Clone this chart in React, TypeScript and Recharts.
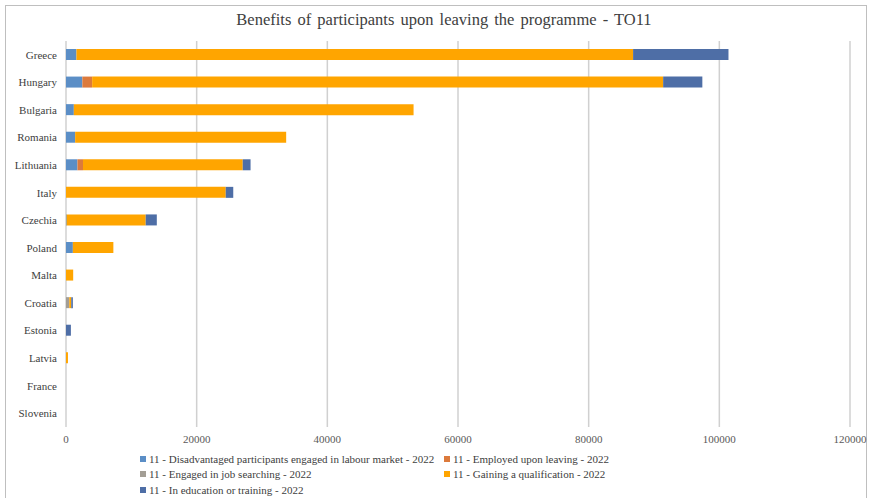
import { BarChart, Bar, XAxis, YAxis, CartesianGrid } from "recharts";

const countries = [
  "Greece", "Hungary", "Bulgaria", "Romania", "Lithuania", "Italy", "Czechia",
  "Poland", "Malta", "Croatia", "Estonia", "Latvia", "France", "Slovenia",
];
const disadvantaged = [1600, 2500, 1200, 1400, 1750, 0, 100, 1050, 0, 0, 0, 0, 0, 0];
const employed = [0, 1500, 0, 0, 850, 0, 0, 0, 0, 0, 0, 0, 0, 0];
const jobSearching = [0, 0, 0, 0, 0, 0, 0, 0, 0, 500, 0, 0, 0, 0];
const qualification = [85200, 87400, 52000, 32300, 24450, 24450, 12100, 6200, 1100, 300, 0, 300, 0, 0];
const education = [14600, 6000, 0, 0, 1200, 1150, 1700, 0, 0, 250, 750, 0, 0, 0];
const xTicks = [0, 20000, 40000, 60000, 80000, 100000, 120000];

const series = [
  { key: "disadvantaged", name: "11 - Disadvantaged participants engaged in labour market - 2022", color: "#5b8ec6" },
  { key: "employed", name: "11 - Employed upon leaving - 2022", color: "#dc7a3c" },
  { key: "jobSearching", name: "11 - Engaged in job searching - 2022", color: "#a39e95" },
  { key: "qualification", name: "11 - Gaining a qualification - 2022", color: "#ffa500" },
  { key: "education", name: "11 - In education or training - 2022", color: "#4e6ea6" },
];

const data = countries.map((c, i) => ({
  country: c,
  disadvantaged: disadvantaged[i],
  employed: employed[i],
  jobSearching: jobSearching[i],
  qualification: qualification[i],
  education: education[i],
}));

const font = "'Liberation Serif', 'Times New Roman', serif";

function LegendBox() {
  return (
    <div style={{ fontFamily: font, fontSize: 11, color: "#404040", display: "grid", gridTemplateColumns: "304px 300px" }}>
      {series.map((s) => (
        <div key={s.key} style={{ display: "flex", alignItems: "center", whiteSpace: "nowrap", height: 15.5 }}>
          <span style={{ display: "inline-block", width: 6, height: 6, background: s.color, marginRight: 3 }} />
          <span>{s.name}</span>
        </div>
      ))}
    </div>
  );
}

export default function App() {
  return (
    <div style={{ position: "absolute", left: 0, top: 0, width: 871, height: 498, background: "#fff", overflow: "hidden" }}>
      <div style={{ position: "absolute", left: 5, top: 5, width: 862, height: 500, border: "1px solid #bfbfbf", boxSizing: "border-box" }} />
      <div style={{ position: "absolute", left: 0, top: 10, width: 888, textAlign: "center", fontFamily: font, fontSize: 16.5, color: "#404040", wordSpacing: 2 }}>
        Benefits of participants upon leaving the programme - TO11
      </div>
      <div style={{ position: "absolute", left: 0, top: 0 }}>
        <BarChart
          width={871}
          height={498}
          data={data}
          layout="vertical"
          margin={{ top: 41, right: 21, bottom: 41, left: 0 }}
          barSize={11}
        >
          <CartesianGrid horizontal={false} stroke="#d0d0d0" strokeWidth={1.5} />
          <XAxis
            type="number"
            domain={[0, 120000]}
            ticks={xTicks}
            axisLine={false}
            tickLine={false}
            tick={{ fill: "#595959", fontSize: 11, fontFamily: font }}
            tickMargin={2}
            interval={0}
          />
          <YAxis
            type="category"
            dataKey="country"
            width={66}
            axisLine={false}
            tickLine={false}
            tick={{ fill: "#404040", fontSize: 11, fontFamily: font }}
            tickMargin={3}
            interval={0}
          />
          {series.map((s) => (
            <Bar
              key={s.key}
              dataKey={s.key}
              name={s.name}
              stackId="a"
              fill={s.color}
              isAnimationActive={false}
            />
          ))}
        </BarChart>
      </div>
      <div style={{ position: "absolute", left: 140, top: 451, width: 620 }}>
        <LegendBox />
      </div>
    </div>
  );
}
